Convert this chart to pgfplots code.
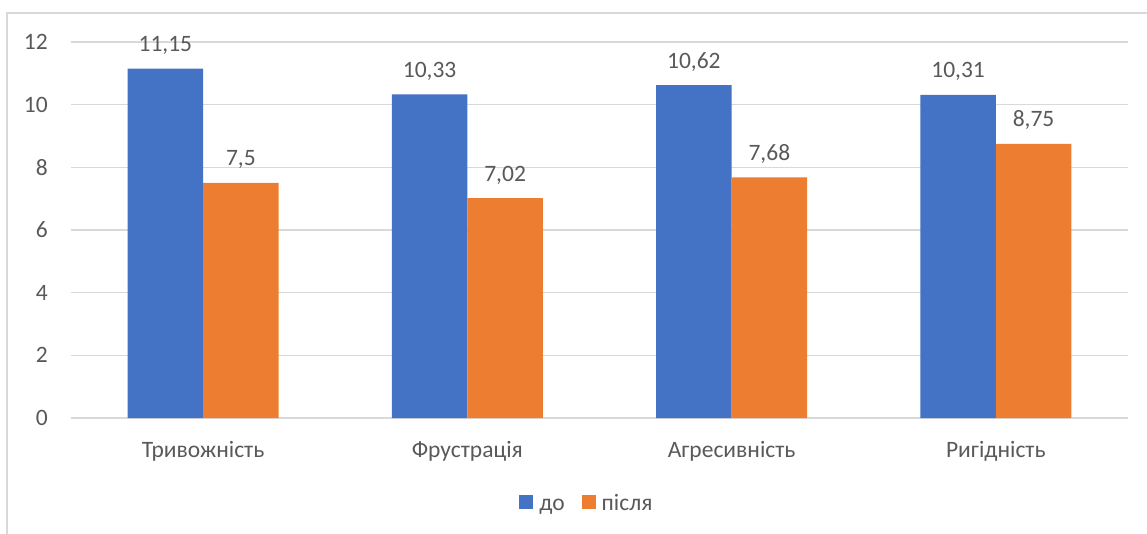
\documentclass[border=0pt]{standalone}
\usepackage{pgfplots}
\pgfplotsset{compat=1.18}
\usepackage{fontspec}
\setmainfont{Carlito}
\definecolor{cblue}{HTML}{4472C4}
\definecolor{corange}{HTML}{ED7D31}
\definecolor{cgrid}{HTML}{D9D9D9}
\definecolor{ctext}{HTML}{595959}
\begin{document}
\begin{tikzpicture}[font=\fontsize{23.5pt}{27pt}\selectfont, text=ctext]
\begin{axis}[
  at={(0pt,0pt)}, anchor=south west,
  scale only axis,
  width=1057pt, height=376pt,
  xmin=-0.5, xmax=3.5,
  ymin=0, ymax=12,
  ytick={0,2,...,12},
  xtick={0,1,2,3},
  xticklabels={Тривожність,Фрустрація,Агресивність,Ригідність},
  axis line style={draw=none},
  major tick length=0pt,
  ymajorgrids,
  grid style={cgrid, line width=1.3pt},
  /pgf/number format/.cd, use comma, assume math mode=true,
  /pgfplots/.cd,
  ybar, bar width=75.5pt,
  yticklabel style={anchor=east, inner sep=0pt, xshift=-23pt, text=ctext},
  xticklabel style={anchor=base, inner sep=0pt, yshift=-39pt, text=ctext},
  nodes near coords,
  nodes near coords style={anchor=base, yshift=17pt, inner sep=0pt, text=ctext},
  legend columns=-1,
  legend style={at={(0.4872,-0.226)}, anchor=center, draw=none, fill=none,
    font=\fontsize{23.5pt}{27pt}\selectfont, text=ctext,
    nodes={inner sep=0pt, anchor=base},
    /tikz/every odd column/.append style={column sep=6pt},
    /tikz/every even column/.append style={column sep=17pt}},
  legend image code/.code={\path[#1,draw=none] (0pt,1pt) rectangle (14pt,15pt);},
]
\addplot[fill=cblue, draw=none, bar shift=-37.75pt] coordinates {(0,11.15) (1,10.33) (2,10.62) (3,10.31)};
\addplot[fill=corange, draw=none, bar shift=37.75pt] coordinates {(0,7.5) (1,7.02) (2,7.68) (3,8.75)};
\legend{до,після}
\end{axis}
\draw[cgrid, line width=1.3pt] (-64pt,-120pt) -- (-64pt,405pt) -- (1080pt,405pt);
\pgfresetboundingbox
\path[use as bounding box] (-71pt,-115pt) rectangle (1076pt,418pt);
\end{tikzpicture}
\end{document}
